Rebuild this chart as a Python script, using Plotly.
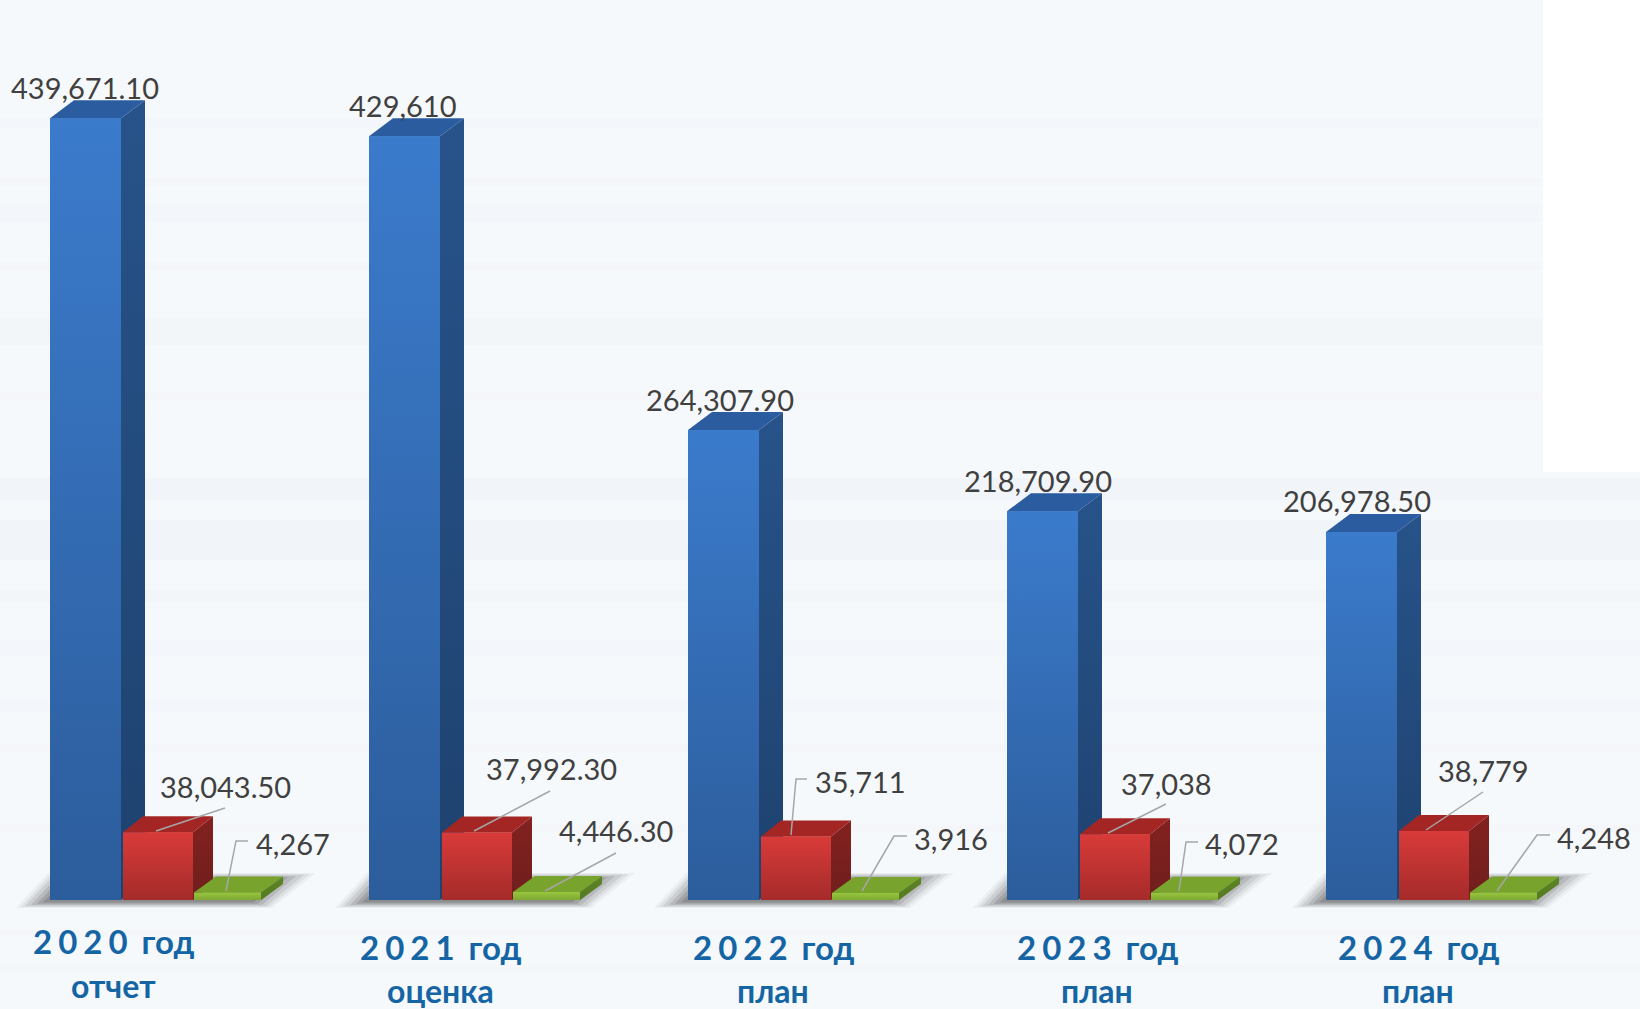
import plotly.graph_objects as go

# ---- data ----
years = ["2020 год", "2021 год", "2022 год", "2023 год", "2024 год"]
year_digits = ["2020", "2021", "2022", "2023", "2024"]
notes = ["отчет", "оценка", "план", "план", "план"]
blue_values = [439671.10, 429610, 264307.90, 218709.90, 206978.50]
red_values = [38043.50, 37992.30, 35711, 37038, 38779]
green_values = [4267, 4446.30, 3916, 4072, 4248]
blue_labels = ["439,671.10", "429,610", "264,307.90", "218,709.90", "206,978.50"]
red_labels = ["38,043.50", "37,992.30", "35,711", "37,038", "38,779"]
green_labels = ["4,267", "4,446.30", "3,916", "4,072", "4,248"]

# ---- layout constants (pixels of the 1640x1009 page) ----
W, H = 1640, 1009
BASE_Y = 900
PX_PER_UNIT = 1.778 / 1000
GROUP_STEP = 319
GROUP_LEFT = 50
FONT = "Lato, Carlito, Calibri, sans-serif"


def vx(px):
    return (px - GROUP_LEFT) / GROUP_STEP


def vy(px):
    return (BASE_Y - px) / PX_PER_UNIT


SERIES = [
    dict(name="blue", values=blue_values, x0=0, x1=71, dx=24, dy=18,
         front=("#3b7bcc", "#2c5d9c"), side=("#27538a", "#1e426f"), top="#2a5c9f", mid="#336ab2"),
    dict(name="red", values=red_values, x0=73, x1=143, dx=20, dy=16,
         front=("#d83b39", "#a52b2a"), side=("#83211f", "#6f1f1d"), top="#a32625", mid="#c03332"),
    dict(name="green", values=green_values, x0=144, x1=211, dx=22, dy=16,
         front=("#98c63e", "#7ea832"), side=("#5d8424", "#557a20"), top="#78a32d", mid="#8ab639"),
]

red_label_pos = [(225, 786), (551, 768), (860, 781), (1166, 783), (1483, 770)]
green_label_pos = [(293, 843), (616, 830), (951, 838), (1242, 843), (1594, 837)]
blue_label_dx = [35, 34, 32, 31, 31]
blue_label_dy = 31

red_leaders = [
    [(225, 808), (156, 831)],
    [(550, 791), (474, 831)],
    [(807, 779), (796, 779), (791, 835)],
    [(1166, 804), (1108, 833)],
    [(1483, 792), (1426, 830)],
]
green_leaders = [
    [(248, 841), (236, 841), (226, 891)],
    [(616, 853), (545, 891)],
    [(907, 836), (894, 836), (862, 891)],
    [(1198, 842), (1186, 842), (1179, 891)],
    [(1550, 835), (1537, 835), (1497, 891)],
]

year_x = [113, 440, 773, 1097, 1418]
year_y = [941, 947, 947, 947, 947]
note_y = [985, 990, 990, 990, 990]

streak_bands = [
    (118, 128, 0.55), (178, 186, 0.4), (205, 222, 0.6), (262, 270, 0.4), (318, 345, 0.7),
    (392, 400, 0.4), (478, 500, 0.9), (520, 560, 0.9), (590, 602, 0.7), (640, 655, 0.6),
    (700, 712, 0.6), (745, 752, 0.4), (825, 832, 0.4), (930, 936, 0.4), (965, 972, 0.4),
]

fig = go.Figure()

shapes = []
for y0, y1, a in streak_bands:
    shapes.append(dict(type="rect", xref="paper", yref="paper", x0=0, x1=1,
                       y0=1 - y1 / H, y1=1 - y0 / H,
                       fillcolor=f"rgba(225,230,240,{a * 0.25})", line_width=0, layer="below"))
shapes.append(dict(type="rect", xref="paper", yref="paper", x0=1543 / W, x1=1,
                   y0=1 - 472 / H, y1=1, fillcolor="#ffffff", line_width=0, layer="below"))

# floor shadows: stacked translucent shapes give a soft edge
for i in range(len(years)):
    g = GROUP_LEFT + i * GROUP_STEP
    for inset, alpha in [(0, 0.05), (3, 0.08), (6, 0.11), (10, 0.14), (14, 0.17), (18, 0.20)]:
        xs = [g - 34 + inset * 1.5, g + 222 - inset, g + 266 - inset * 2, g - 2 + inset]
        ys = [908 - inset * 0.3, 908 - inset * 0.3, 873 + inset * 0.3, 873 + inset * 0.3]
        fig.add_trace(go.Scatter(
            x=[vx(v) for v in xs + xs[:1]], y=[vy(v) for v in ys + ys[:1]],
            mode="lines", line_width=0, fill="toself",
            fillcolor=f"rgba(60,60,60,{alpha})", hoverinfo="skip", showlegend=False))

# 3D columns: front faces come from real bar traces, the rest is derived from the values
for s in SERIES:
    x0, x1 = vx(GROUP_LEFT + s["x0"]), vx(GROUP_LEFT + s["x1"])
    ddx = s["dx"] / GROUP_STEP
    ddy = s["dy"] / PX_PER_UNIT
    for i, v in enumerate(s["values"]):
        sx = [i + x1, i + x1, i + x1 + ddx, i + x1 + ddx, i + x1]
        sy = [0, v, v + ddy, ddy, 0]
        fig.add_trace(go.Scatter(
            x=sx, y=sy, mode="lines", line_width=0, fill="toself",
            fillgradient=dict(type="vertical",
                              colorscale=[[0, s["side"][1]], [1, s["side"][0]]]),
            hoverinfo="skip", showlegend=False))
        tx = [i + x0, i + x1, i + x1 + ddx, i + x0 + ddx, i + x0]
        ty = [v, v, v + ddy, v + ddy, v]
        fig.add_trace(go.Scatter(
            x=tx, y=ty, mode="lines", line_width=0, fill="toself",
            fillcolor=s["top"], hoverinfo="skip", showlegend=False))
    fig.add_trace(go.Bar(
        x=[i + (x0 + x1) / 2 for i in range(len(years))], y=s["values"],
        width=x1 - x0, marker=dict(color=s["mid"], line_width=0),
        name=s["name"], showlegend=False))
    for i, v in enumerate(s["values"]):
        fx = [i + x0, i + x1, i + x1, i + x0, i + x0]
        fy = [0, 0, v, v, 0]
        fig.add_trace(go.Scatter(
            x=fx, y=fy, mode="lines", line_width=0, fill="toself",
            fillgradient=dict(type="vertical",
                              colorscale=[[0, s["front"][1]], [1, s["front"][0]]]),
            hoverinfo="skip", showlegend=False))

# leader lines
for path in red_leaders + green_leaders:
    fig.add_trace(go.Scatter(
        x=[vx(p[0]) for p in path], y=[vy(p[1]) for p in path],
        mode="lines", line=dict(color="#a6a6a6", width=1.5),
        hoverinfo="skip", showlegend=False))

annotations = []


def label(text, px, py, size=29, color="#404040", bold=False):
    annotations.append(dict(
        text=f"<b>{text}</b>" if bold else text,
        x=vx(px), y=vy(py), xref="x", yref="y", showarrow=False,
        xanchor="center", yanchor="middle",
        font=dict(family=FONT, size=size, color=color)))


for i in range(len(years)):
    g = GROUP_LEFT + i * GROUP_STEP
    top_px = BASE_Y - blue_values[i] * PX_PER_UNIT
    label(blue_labels[i], g + blue_label_dx[i], top_px - blue_label_dy)
    label(red_labels[i], *red_label_pos[i])
    label(green_labels[i], *green_label_pos[i])
    spaced = f'<span style="letter-spacing:6px">{year_digits[i]}</span>' + years[i][4:]
    label(spaced, year_x[i], year_y[i], size=33, color="#1565a5", bold=True)
    label(notes[i], year_x[i], note_y[i], size=32, color="#1565a5", bold=True)

fig.update_layout(
    width=W, height=H,
    margin=dict(l=0, r=0, t=0, b=0),
    paper_bgcolor="#f6f9fc", plot_bgcolor="rgba(0,0,0,0)",
    showlegend=False, barmode="overlay",
    shapes=shapes, annotations=annotations,
    xaxis=dict(range=[vx(0), vx(W)], visible=False, fixedrange=True),
    yaxis=dict(range=[vy(H), vy(0)], visible=False, fixedrange=True),
)

fig.write_html("out.html", config={"displayModeBar": False},
               post_script="document.body.style.margin='0';document.body.style.overflow='hidden';")
